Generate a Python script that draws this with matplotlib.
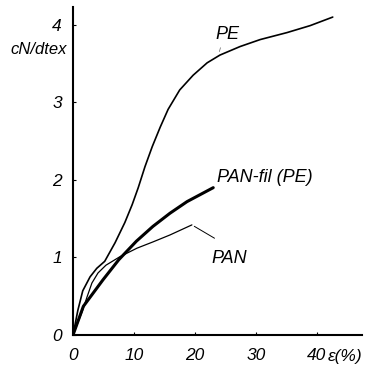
import matplotlib.pyplot as plt

# values (strain in %, tenacity in cN/dtex)
pe_x = [0, 0.8, 1.6, 2.8, 3.9, 5.2, 6.9, 8.5, 9.7, 10.7, 11.8, 13.0, 14.3, 15.6,
        17.5, 19.7, 22.0, 24.1, 27.4, 30.7, 35.1, 38.9, 42.6]
pe_y = [0, 0.32, 0.57, 0.75, 0.86, 0.95, 1.19, 1.45, 1.68, 1.90, 2.17, 2.43, 2.68,
        2.91, 3.16, 3.35, 3.51, 3.61, 3.72, 3.81, 3.90, 3.99, 4.10]

panfil_x = [0, 1.7, 4.9, 7.5, 10.4, 13.1, 15.9, 18.7, 23.0]
panfil_y = [0, 0.37, 0.71, 0.97, 1.21, 1.40, 1.57, 1.72, 1.90]

pan_x = [0, 1.5, 2.3, 3.1, 4.1, 5.4, 7.7, 10.5, 13.1, 15.9, 19.5]
pan_y = [0, 0.30, 0.49, 0.67, 0.80, 0.90, 1.01, 1.12, 1.20, 1.29, 1.42]

xticks = [0, 10, 20, 30, 40]
yticks = [0, 1, 2, 3, 4]

plt.rcParams['font.family'] = ['Liberation Sans', 'DejaVu Sans']
plt.rcParams['font.style'] = 'italic'

fig = plt.figure(figsize=(3.69, 3.75), dpi=100)
ax = fig.add_axes([73/369, 40/375, 289/369, 328/375])

ax.plot(pe_x, pe_y, color='black', lw=1.2, solid_capstyle='round', solid_joinstyle='round')
ax.plot(panfil_x, panfil_y, color='black', lw=2.2, solid_capstyle='round', solid_joinstyle='round')
ax.plot(pan_x, pan_y, color='black', lw=0.9, solid_capstyle='round', solid_joinstyle='round')

ax.set_xlim(0, 47.4)
ax.set_ylim(0, 4.23)
ax.set_xticks(xticks)
ax.set_yticks(yticks)
ax.set_xticklabels([str(v) for v in xticks], fontsize=12.5, style='italic')
ax.set_yticklabels([str(v) for v in yticks], fontsize=12.5, style='italic')
ax.tick_params(direction='in', length=2.5, width=0.8)
ax.tick_params(axis='x', pad=9)
ax.tick_params(axis='y', pad=8)

for s in ['top', 'right']:
    ax.spines[s].set_visible(False)
for s in ['left', 'bottom']:
    ax.spines[s].set_linewidth(1.5)

# curve labels with leader lines
ax.text(25.4, 3.87, 'PE', fontsize=13, ha='center', va='center', style='italic')
ax.annotate('', xy=(23.9, 3.62), xytext=(24.3, 3.74),
            arrowprops=dict(arrowstyle='-', lw=0.5, color='0.4'))
ax.text(31.5, 2.03, 'PAN-fil (PE)', fontsize=13, ha='center', va='center', style='italic')
ax.text(25.7, 0.99, 'PAN', fontsize=13, ha='center', va='center', style='italic')
ax.annotate('', xy=(pan_x[-1], pan_y[-1]), xytext=(23.6, 1.23),
            arrowprops=dict(arrowstyle='-', lw=0.7, color='black'))

fig.text(67/369, 1 - 49/375, 'cN/dtex', fontsize=12, ha='right', va='center', style='italic')
fig.text(328/369, 1 - 356/375, 'ε(%)', fontsize=12.5, ha='left', va='center', style='italic')

fig.savefig('out.png', dpi=100)
